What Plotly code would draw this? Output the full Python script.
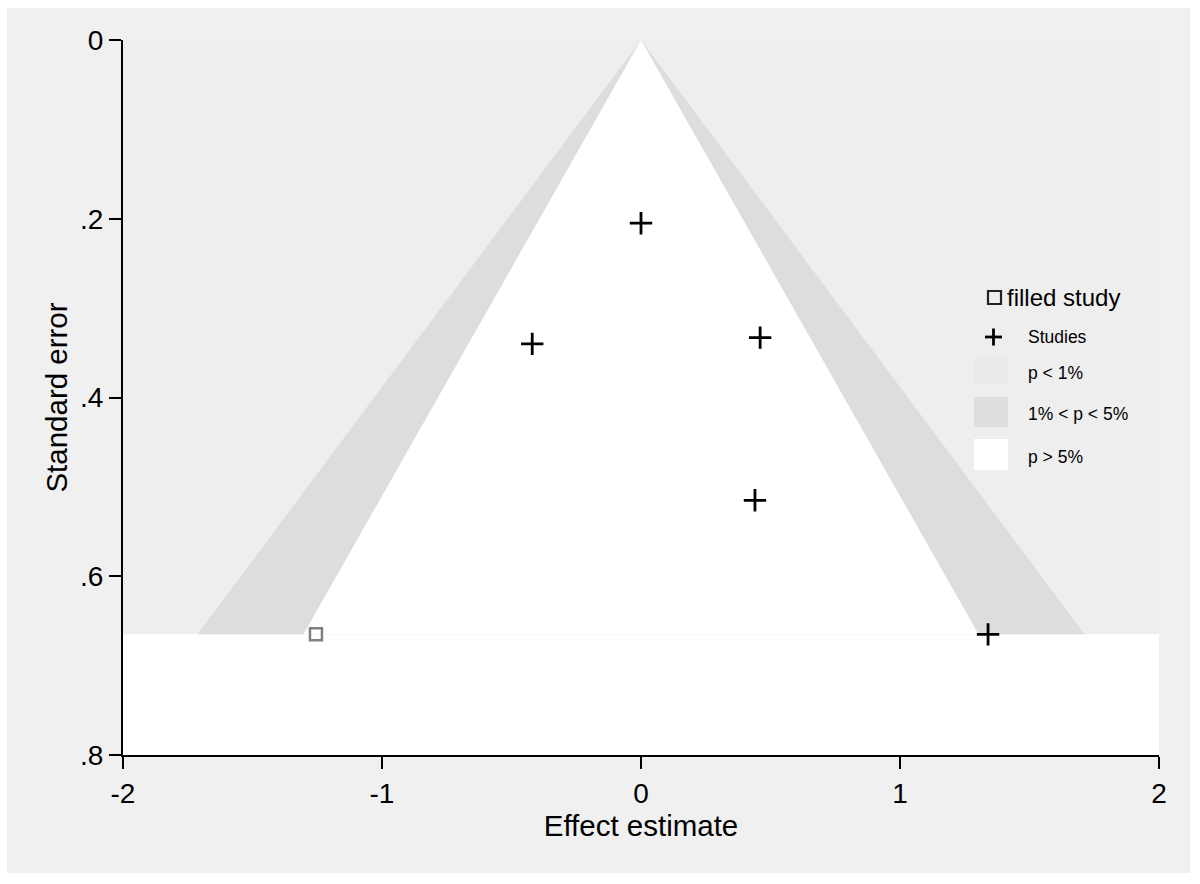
import plotly.graph_objects as go

# ---- data ----
study_effect = [0.0, -0.42, 0.46, 0.44, 1.34]
study_se = [0.205, 0.34, 0.333, 0.515, 0.665]
filled_effect = [-1.255]
filled_se = [0.665]
se_max = 0.665
z_1pct = 2.576
z_5pct = 1.96
x_ticks = [-2, -1, 0, 1, 2]
y_ticks = [0, 0.2, 0.4, 0.6, 0.8]
y_ticktext = ["0", ".2", ".4", ".6", ".8"]
legend_labels = ["filled study", "Studies", "p < 1%", "1% < p < 5%", "p > 5%"]

C_P1 = "#eeeeee"
C_P5 = "#dddddd"
C_NS = "#ffffff"
PANEL = "#f0f0f0"
FONT = "Liberation Sans, Arial, sans-serif"

x0, x1 = x_ticks[0], x_ticks[-1]
y0, y1 = y_ticks[0], y_ticks[-1]

fig = go.Figure()

# p < 1% region (outer, up to se_max)
fig.add_trace(go.Scatter(x=[x0, x1, x1, x0, x0], y=[y0, y0, se_max, se_max, y0],
                         fill="toself", fillcolor=C_P1, mode="none", showlegend=False, hoverinfo="skip"))
# region below se_max (white)
fig.add_trace(go.Scatter(x=[x0, x1, x1, x0, x0], y=[se_max, se_max, y1, y1, se_max],
                         fill="toself", fillcolor=C_NS, mode="none", showlegend=False, hoverinfo="skip"))
# 1% < p < 5%
fig.add_trace(go.Scatter(x=[0, -z_1pct * se_max, z_1pct * se_max, 0], y=[0, se_max, se_max, 0],
                         fill="toself", fillcolor=C_P5, mode="none", showlegend=False, hoverinfo="skip"))
# p > 5%
fig.add_trace(go.Scatter(x=[0, -z_5pct * se_max, z_5pct * se_max, 0], y=[0, se_max, se_max, 0],
                         fill="toself", fillcolor=C_NS, mode="none", showlegend=False, hoverinfo="skip"))

# studies
fig.add_trace(go.Scatter(x=study_effect, y=study_se, mode="markers", showlegend=False,
                         marker=dict(symbol="cross-thin", size=16, line=dict(width=2.8, color="black"))))
# filled study
fig.add_trace(go.Scatter(x=filled_effect, y=filled_se, mode="markers", showlegend=False,
                         marker=dict(symbol="square-open", size=12, color="#808080",
                                     line=dict(width=2.5, color="#808080"))))

L, R, T, B = 123, 41, 40, 129
W, H = 1200, 884
PW, PH = W - L - R, H - T - B


def px(x):
    return (x - L) / PW


def py(y):
    return (H - B - y) / PH


shapes = [
    # page panel
    dict(type="rect", xref="paper", yref="paper", x0=px(7), x1=px(1190), y0=py(873), y1=py(8),
         fillcolor=PANEL, line=dict(width=0), layer="below"),
    # legend: filled study square
    dict(type="rect", xref="paper", yref="paper", x0=px(988), x1=px(1001), y0=py(304), y1=py(291),
         fillcolor="rgba(0,0,0,0)", line=dict(width=2.2, color="#222")),
    # legend: plus
    dict(type="line", xref="paper", yref="paper", x0=px(985), x1=px(1002), y0=py(337), y1=py(337),
         line=dict(width=2.8, color="black")),
    dict(type="line", xref="paper", yref="paper", x0=px(993.5), x1=px(993.5), y0=py(328.5), y1=py(345.5),
         line=dict(width=2.8, color="black")),
    # swatches
    dict(type="rect", xref="paper", yref="paper", x0=px(974), x1=px(1008), y0=py(385), y1=py(356),
         fillcolor="#ebebeb", line=dict(width=0)),
    dict(type="rect", xref="paper", yref="paper", x0=px(974), x1=px(1008), y0=py(427), y1=py(397),
         fillcolor=C_P5, line=dict(width=0)),
    dict(type="rect", xref="paper", yref="paper", x0=px(974), x1=px(1008), y0=py(470), y1=py(439),
         fillcolor=C_NS, line=dict(width=0)),
]

annotations = [
    dict(text=legend_labels[0], xref="paper", yref="paper", x=px(1005), y=py(297), xanchor="left",
         yanchor="middle", showarrow=False, font=dict(size=24, color="black", family=FONT)),
]
for lab, yy in zip(legend_labels[1:], [337, 373, 414, 457]):
    annotations.append(dict(text=lab, xref="paper", yref="paper", x=px(1026), y=py(yy), xanchor="left",
                            yanchor="middle", showarrow=False, font=dict(size=17.5, color="black", family=FONT)))

axis_common = dict(showline=True, linecolor="black", linewidth=2, ticks="outside", ticklen=12,
                   tickwidth=2, tickcolor="black", showgrid=False, zeroline=False,
                   tickfont=dict(size=28, color="black", family=FONT))

fig.update_layout(
    width=W, height=H,
    margin=dict(l=L, r=R, t=T, b=B),
    paper_bgcolor="white", plot_bgcolor="white",
    font=dict(family=FONT, color="black"),
    showlegend=False,
    shapes=shapes, annotations=annotations,
    xaxis=dict(range=[x0, x1], tickvals=x_ticks, ticktext=[str(v) for v in x_ticks],
               title=dict(text="Effect estimate", font=dict(size=29.5, family=FONT), standoff=0),
               **axis_common),
    yaxis=dict(range=[y1, y0], tickvals=y_ticks, ticktext=y_ticktext,
               title=dict(text="Standard error", font=dict(size=29.5, family=FONT), standoff=4),
               **axis_common),
)

fig.write_html("out.html", config={"displayModeBar": False},
               post_script="document.body.style.margin='0';document.body.style.overflow='hidden';")
